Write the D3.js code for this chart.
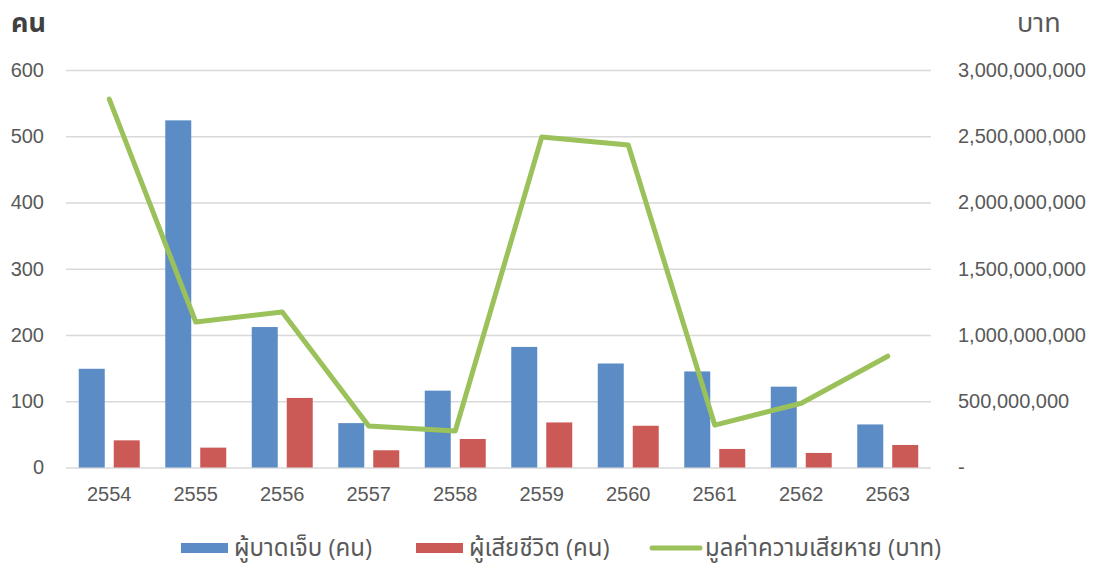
<!DOCTYPE html>
<html>
<head>
<meta charset="utf-8">
<script src="https://cdn.jsdelivr.net/npm/d3@7"></script>
<style>
  body { margin: 0; background: #fff; }
  svg { font-family: "Open Sans", "Noto Sans", "Noto Sans Thai", Tahoma, sans-serif; }
  .axis text { fill: #595959; font-size: 20px; }
</style>
</head>
<body>
<svg id="chart" width="1099" height="563"></svg>
<script>
const years = ["2554", "2555", "2556", "2557", "2558", "2559", "2560", "2561", "2562", "2563"];
const injured = [149, 524, 212, 67, 116, 182, 157, 145, 122, 65];
const deaths = [41, 30, 105, 26, 43, 68, 63, 28, 22, 34];
const damage = [2780000000, 1098000000, 1173000000, 313000000, 275000000, 2494000000, 2434000000, 320000000, 485000000, 840000000];
const leftTicks = [0, 100, 200, 300, 400, 500, 600];
const rightTicks = [0, 500000000, 1000000000, 1500000000, 2000000000, 2500000000, 3000000000];
const seriesNames = ["ผู้บาดเจ็บ (คน)", "ผู้เสียชีวิต (คน)", "มูลค่าความเสียหาย (บาท)"];
const colors = ["#5B8CC6", "#CB5A56", "#9BC15A"];

const svg = d3.select("#chart");
const plot = { left: 66, right: 931, top: 70, bottom: 467.5 };

const x0 = d3.scaleBand().domain(years).range([plot.left, plot.right])
    .paddingInner(0.295).paddingOuter(0.1475);
const x1 = d3.scaleBand().domain([0, 1]).range([0, x0.bandwidth()])
    .paddingInner(0.257);
const yL = d3.scaleLinear().domain([0, 600]).range([plot.bottom, plot.top]);
const yR = d3.scaleLinear().domain([0, 3000000000]).range([plot.bottom, plot.top]);

// grid + left axis
const gL = svg.append("g").attr("class", "axis")
    .attr("transform", `translate(${plot.left},0)`)
    .call(d3.axisLeft(yL).tickValues(leftTicks).tickSize(-(plot.right - plot.left)).tickPadding(22));
gL.select(".domain").remove();
gL.selectAll("line").attr("stroke", "#d9d9d9").attr("stroke-width", 1.5);

const gR = svg.append("g").attr("class", "axis")
    .attr("transform", `translate(${plot.right},0)`)
    .call(d3.axisRight(yR).tickValues(rightTicks).tickSize(0).tickPadding(27)
        .tickFormat(d => d === 0 ? "-" : d3.format(",")(d)));
gR.select(".domain").remove();

const gX = svg.append("g").attr("class", "axis")
    .attr("transform", `translate(0,${plot.bottom})`)
    .call(d3.axisBottom(x0).tickSize(0).tickPadding(19));
gX.select(".domain").remove();

// bars
const groups = svg.append("g").selectAll("g")
    .data(years)
    .join("g")
    .attr("transform", d => `translate(${x0(d)},0)`);

groups.selectAll("rect")
    .data((d, i) => [injured[i], deaths[i]])
    .join("rect")
    .attr("x", (d, j) => x1(j))
    .attr("width", x1.bandwidth())
    .attr("y", d => yL(d))
    .attr("height", d => plot.bottom - yL(d))
    .attr("fill", (d, j) => colors[j]);

// line
const line = d3.line()
    .x((d, i) => x0(years[i]) + x0.bandwidth() / 2)
    .y(d => yR(d));
svg.append("path")
    .datum(damage)
    .attr("d", line)
    .attr("fill", "none")
    .attr("stroke", colors[2])
    .attr("stroke-width", 5)
    .attr("stroke-linejoin", "round")
    .attr("stroke-linecap", "round");

// axis titles
svg.append("text").attr("x", 11).attr("y", 32)
    .attr("font-size", 27).attr("font-weight", "bold").attr("fill", "#404040")
    .text("คน");
svg.append("text").attr("x", 1017).attr("y", 32)
    .attr("font-size", 27).attr("fill", "#595959")
    .text("บาท");

// legend
const legendX = [181, 416, 650];
const legend = svg.append("g").selectAll("g")
    .data(seriesNames)
    .join("g")
    .attr("transform", (d, i) => `translate(${legendX[i]},548)`);
legend.each(function (d, i) {
    const g = d3.select(this);
    if (i < 2) {
        g.append("rect").attr("x", 0).attr("y", -5).attr("width", 47).attr("height", 10)
            .attr("fill", colors[i]);
    } else {
        g.append("line").attr("x1", 2).attr("x2", 50).attr("y1", 0).attr("y2", 0)
            .attr("stroke", colors[i]).attr("stroke-width", 5).attr("stroke-linecap", "round");
    }
    g.append("text").attr("x", i < 2 ? 53 : 55).attr("y", 8)
        .attr("font-size", 24).attr("fill", "#595959")
        .text(d);
});
</script>
</body>
</html>
